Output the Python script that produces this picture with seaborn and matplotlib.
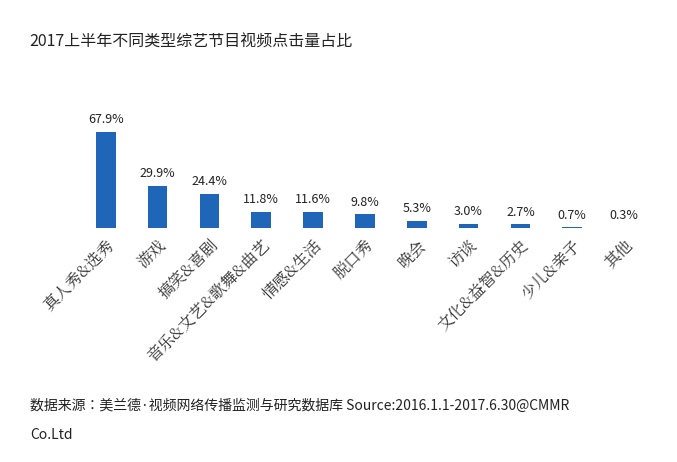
import matplotlib.pyplot as plt
from matplotlib import font_manager
import seaborn as sns
import pandas as pd

# installed CJK fonts: sans for text, serif for the category labels
names = sorted({f.name for f in font_manager.fontManager.ttflist if 'CJK' in f.name})
sans = next((n for n in names if 'Sans CJK SC' in n), None) or next((n for n in names if 'Sans' in n), 'DejaVu Sans')
serif = next((n for n in names if 'Serif' in n), sans)
plt.rcParams['font.family'] = [sans, 'DejaVu Sans']

categories = ['真人秀&选秀', '游戏', '搞笑&喜剧', '音乐&文艺&歌舞&曲艺', '情感&生活',
              '脱口秀', '晚会', '访谈', '文化&益智&历史', '少儿&亲子', '其他']
shares = [67.9, 29.9, 24.4, 11.8, 11.6, 9.8, 5.3, 3.0, 2.7, 0.7, 0.3]

df = pd.DataFrame({'cat': categories, 'share': shares})

fig = plt.figure(figsize=(6.77, 4.62), dpi=100)
ax = fig.add_axes([0.118, 0.506, 0.842, 0.245])
sns.barplot(data=df, x='cat', y='share', color='#1F66B8', width=0.38,
            saturation=1, ax=ax)
ax.set_ylim(0, 80)
ax.set_xlim(-0.5, len(categories) - 0.5)
for i, v in enumerate(shares):
    ax.text(i, v + 4, f'{v:.1f}%', ha='center', va='bottom', fontsize=9, color='#222222')
ax.set_xticks(range(len(categories)))
ax.set_xticklabels(categories, rotation=45, ha='right', rotation_mode='anchor',
                   fontsize=11.5, color='#333333', fontfamily=serif)
ax.tick_params(axis='x', length=0, pad=6)
ax.set_yticks([])
ax.set_xlabel('')
ax.set_ylabel('')
for s in ax.spines.values():
    s.set_visible(False)

fig.text(0.044, 0.9, '2017上半年不同类型综艺节目视频点击量占比', fontsize=11.5, color='#222222')
fig.text(0.044, 0.112, '数据来源：美兰德·视频网络传播监测与研究数据库 Source:2016.1.1-2017.6.30@CMMR',
         fontsize=10, color='#222222')
fig.text(0.044, 0.05, 'Co.Ltd', fontsize=10, color='#222222')

fig.savefig('out.png', dpi=100)
